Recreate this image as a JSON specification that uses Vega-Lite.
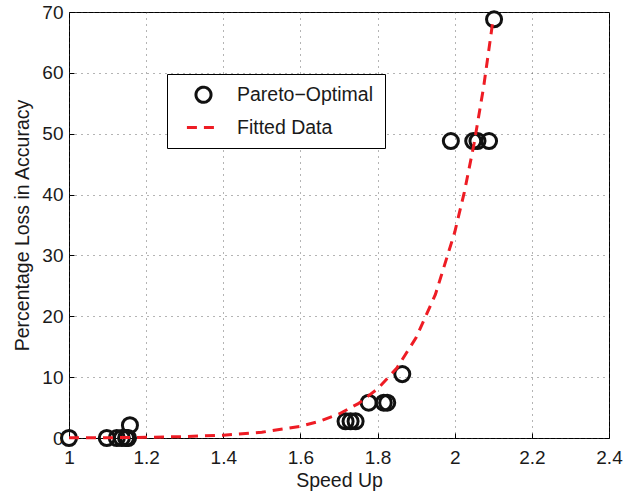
{
  "$schema": "https://vega.github.io/schema/vega-lite/v6.json",
  "width": 540,
  "height": 426,
  "autosize": "none",
  "padding": {"left": 69, "top": 12, "right": 32, "bottom": 55},
  "background": "white",
  "config": {
    "font": "Liberation Sans",
    "view": {"stroke": "black", "strokeWidth": 1},
    "axis": {
      "domain": false,
      "grid": true,
      "gridColor": "#444444",
      "gridDash": [1, 5],
      "gridWidth": 1,
      "gridOpacity": 0.8,
      "tickColor": "black",
      "tickSize": -5,
      "labelFontSize": 19,
      "labelColor": "#1a1a1a",
      "titleFontSize": 19.5,
      "titleFontWeight": "normal",
      "titleColor": "#1a1a1a",
      "labelFont": "Liberation Sans",
      "titleFont": "Liberation Sans",
      "labelFlush": false,
      "labelOverlap": false
    },
    "legend": {
      "orient": "none",
      "legendX": 98,
      "legendY": 62,
      "strokeColor": "black",
      "fillColor": "white",
      "padding": 11,
      "labelFontSize": 19.5,
      "labelColor": "#1a1a1a",
      "symbolStrokeWidth": 3,
      "symbolOpacity": 1,
      "symbolOffset": 7,
      "rowPadding": -19,
      "labelOffset": 15
    }
  },
  "datasets": {
    "pareto": [
      {"speedup": 1.0, "loss": 0.0},
      {"speedup": 1.098, "loss": 0.0},
      {"speedup": 1.124, "loss": 0.0},
      {"speedup": 1.137, "loss": 0.0},
      {"speedup": 1.148, "loss": 0.0},
      {"speedup": 1.153, "loss": 0.0},
      {"speedup": 1.158, "loss": 2.1},
      {"speedup": 1.717, "loss": 2.75},
      {"speedup": 1.73, "loss": 2.75},
      {"speedup": 1.743, "loss": 2.75},
      {"speedup": 1.777, "loss": 5.8},
      {"speedup": 1.816, "loss": 5.8},
      {"speedup": 1.825, "loss": 5.8},
      {"speedup": 1.864, "loss": 10.5},
      {"speedup": 1.99, "loss": 48.8},
      {"speedup": 2.048, "loss": 48.8},
      {"speedup": 2.059, "loss": 48.8},
      {"speedup": 2.089, "loss": 48.8},
      {"speedup": 2.102, "loss": 68.8}
    ],
    "fit": [
      {"speedup": 1.0, "loss": 0.03},
      {"speedup": 1.1, "loss": 0.05},
      {"speedup": 1.2, "loss": 0.11},
      {"speedup": 1.3, "loss": 0.23},
      {"speedup": 1.4, "loss": 0.46},
      {"speedup": 1.5, "loss": 0.95},
      {"speedup": 1.6, "loss": 1.93},
      {"speedup": 1.65, "loss": 2.76},
      {"speedup": 1.7, "loss": 3.95},
      {"speedup": 1.75, "loss": 5.65},
      {"speedup": 1.8, "loss": 8.07},
      {"speedup": 1.85, "loss": 11.5},
      {"speedup": 1.9, "loss": 16.5},
      {"speedup": 1.95, "loss": 23.6},
      {"speedup": 2.0, "loss": 33.8},
      {"speedup": 2.025, "loss": 40.4},
      {"speedup": 2.05, "loss": 48.3},
      {"speedup": 2.075, "loss": 57.7},
      {"speedup": 2.1, "loss": 69.0}
    ]
  },
  "layer": [
    {
      "data": {"name": "pareto"},
      "transform": [{"calculate": "'Pareto−Optimal'", "as": "series"}],
      "mark": {"type": "point", "filled": false, "strokeWidth": 3, "clip": false, "opacity": 1},
      "encoding": {
        "x": {
          "field": "speedup", "type": "quantitative",
          "scale": {"domain": [1, 2.4], "nice": false, "zero": false},
          "axis": {"values": [1, 1.2, 1.4, 1.6, 1.8, 2, 2.2, 2.4], "format": "~g", "title": "Speed Up", "titlePadding": 4, "labelPadding": 15}
        },
        "y": {
          "field": "loss", "type": "quantitative",
          "scale": {"domain": [0, 70], "nice": false},
          "axis": {"values": [0, 10, 20, 30, 40, 50, 60, 70], "title": "Percentage Loss in Accuracy", "titlePadding": 9, "labelPadding": 11}
        },
        "color": {
          "field": "series", "type": "nominal",
          "scale": {"domain": ["Pareto−Optimal", "Fitted Data"], "range": ["#111111", "#ee1c24"]},
          "legend": {"title": null}
        },
        "shape": {
          "field": "series", "type": "nominal",
          "scale": {"domain": ["Pareto−Optimal", "Fitted Data"], "range": ["circle", "stroke"]},
          "legend": {"title": null}
        },
        "size": {
          "field": "series", "type": "nominal",
          "scale": {"domain": ["Pareto−Optimal", "Fitted Data"], "range": [227, 1100]},
          "legend": {"title": null}
        }
      }
    },
    {
      "data": {"name": "fit"},
      "transform": [{"calculate": "'Fitted Data'", "as": "series"}],
      "mark": {"type": "line", "strokeWidth": 3, "clip": false, "opacity": 1},
      "encoding": {
        "x": {"field": "speedup", "type": "quantitative"},
        "y": {"field": "loss", "type": "quantitative"},
        "color": {"field": "series", "type": "nominal", "legend": {"title": null}},
        "strokeDash": {
          "field": "series", "type": "nominal",
          "scale": {"domain": ["Pareto−Optimal", "Fitted Data"], "range": [[1, 0], [10, 7]]},
          "legend": {"title": null}
        }
      }
    }
  ]
}
